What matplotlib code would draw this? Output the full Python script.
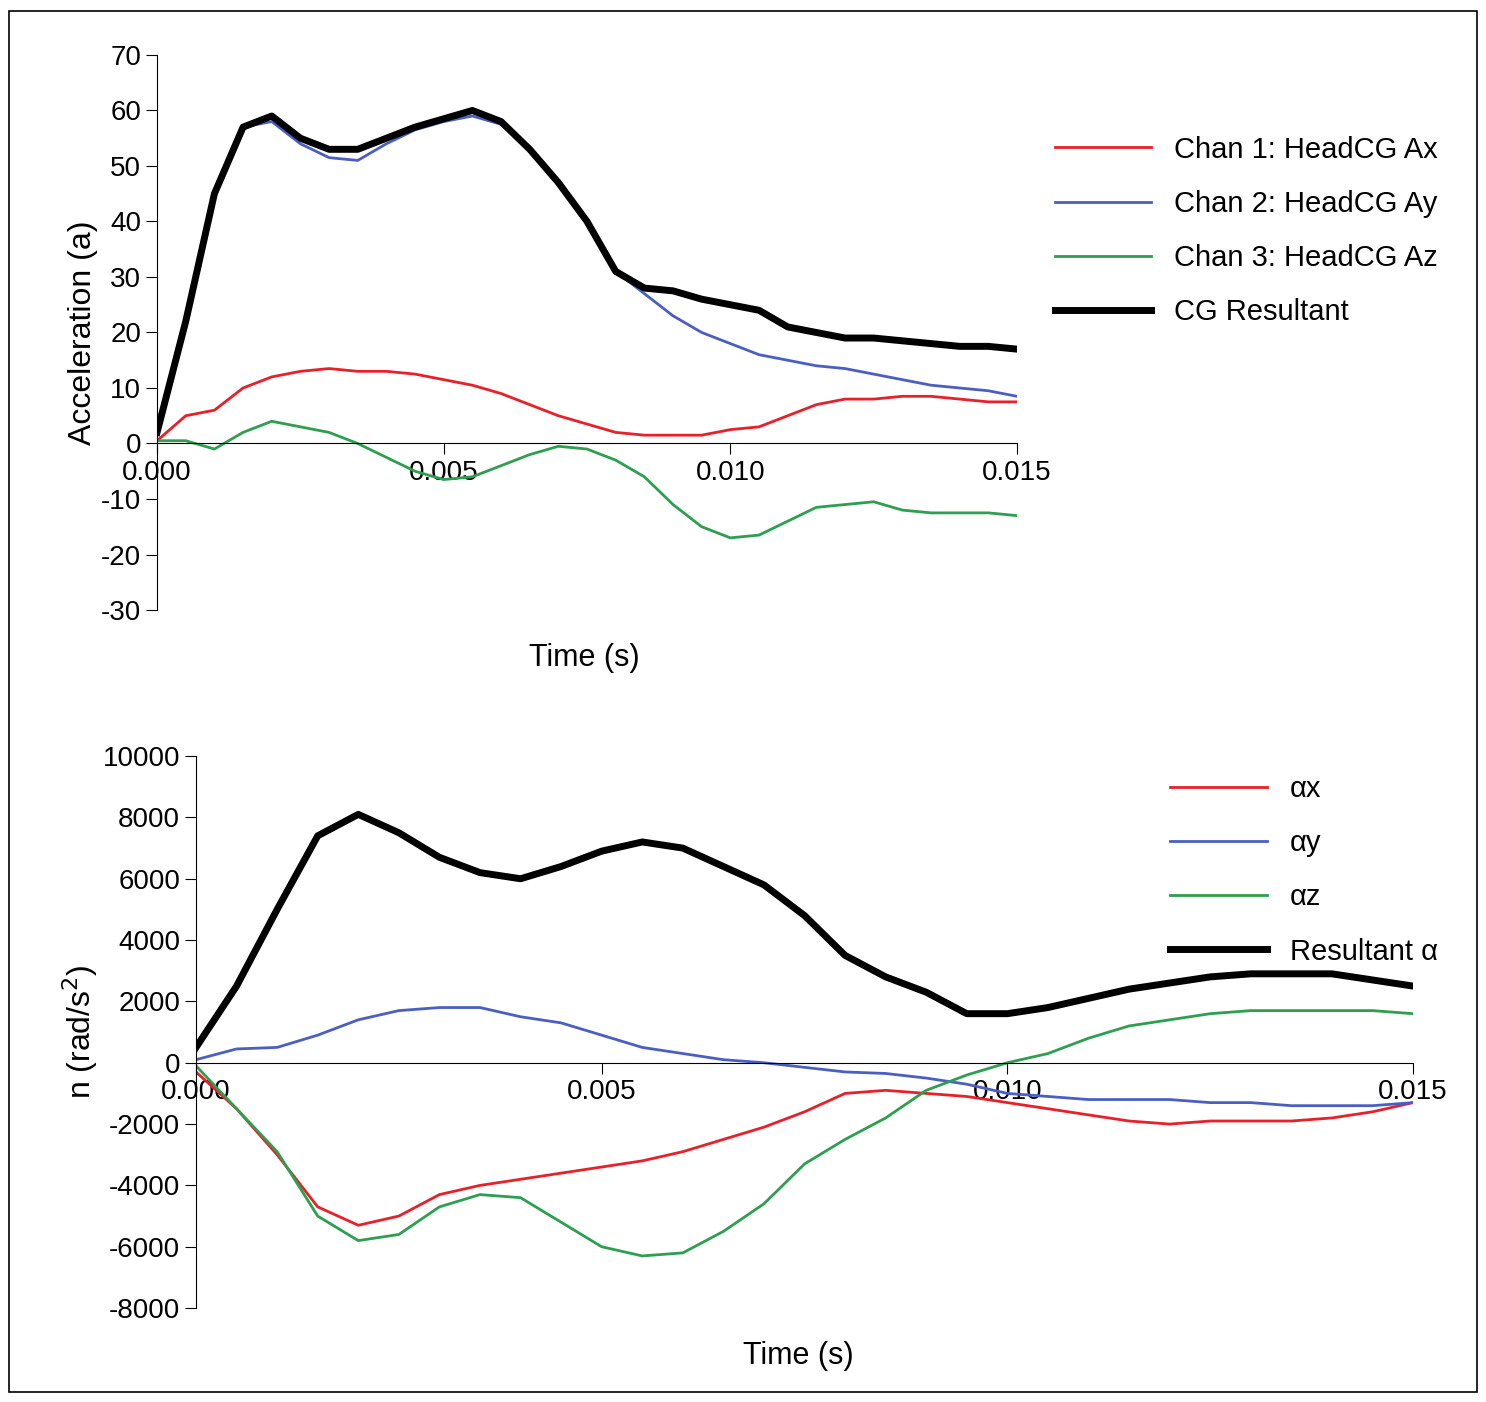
import numpy as np
import matplotlib
matplotlib.use("Agg")
import matplotlib.pyplot as plt
from matplotlib.patches import Rectangle

t = np.arange(31) * 0.0005

cg_res = [2,22,45,57,59,55,53,53,55,57,58.5,60,58,53,47,40,31,28,27.5,26,25,24,21,20,19,19,18.5,18,17.5,17.5,17]
ay = [2,22,45,57,58,54,51.5,51,54,56.5,58,59,57.5,53,47,40,31,27,23,20,18,16,15,14,13.5,12.5,11.5,10.5,10,9.5,8.5]
ax_ = [0.5,5,6,10,12,13,13.5,13,13,12.5,11.5,10.5,9,7,5,3.5,2,1.5,1.5,1.5,2.5,3,5,7,8,8,8.5,8.5,8,7.5,7.5]
az = [0.5,0.5,-1,2,4,3,2,0,-2.5,-5,-6.5,-6,-4,-2,-0.5,-1,-3,-6,-11,-15,-17,-16.5,-14,-11.5,-11,-10.5,-12,-12.5,-12.5,-12.5,-13]

res_alpha = [500,2500,5000,7400,8100,7500,6700,6200,6000,6400,6900,7200,7000,6400,5800,4800,3500,2800,2300,1600,1600,1800,2100,2400,2600,2800,2900,2900,2900,2700,2500]
alpha_y = [100,450,500,900,1400,1700,1800,1800,1500,1300,900,500,300,100,0,-150,-300,-350,-500,-700,-1000,-1100,-1200,-1200,-1200,-1300,-1300,-1400,-1400,-1400,-1300]
alpha_x = [-300,-1500,-3000,-4700,-5300,-5000,-4300,-4000,-3800,-3600,-3400,-3200,-2900,-2500,-2100,-1600,-1000,-900,-1000,-1100,-1300,-1500,-1700,-1900,-2000,-1900,-1900,-1900,-1800,-1600,-1300]
alpha_z = [-100,-1500,-2900,-5000,-5800,-5600,-4700,-4300,-4400,-5200,-6000,-6300,-6200,-5500,-4600,-3300,-2500,-1800,-900,-400,0,300,800,1200,1400,1600,1700,1700,1700,1700,1600]

xticks = [0.0, 0.005, 0.010, 0.015]
xticklabels = ["0.000", "0.005", "0.010", "0.015"]

plt.rcParams['font.family'] = ['Liberation Sans', 'DejaVu Sans']
plt.rcParams['axes.unicode_minus'] = False
fig = plt.figure(figsize=(14.86, 14.02), dpi=100)
fig.patches.append(Rectangle((0.006, 0.007), 0.988, 0.985, transform=fig.transFigure,
                             fill=False, edgecolor='black', lw=1.2))

RED, BLUE, GREEN = '#e8202a', '#4a5fc1', '#2e9e50'

def style(a, ylim, yticks):
    a.set_xlim(0, 0.015)
    a.set_ylim(*ylim)
    a.set_yticks(yticks)
    a.set_xticks(xticks)
    a.set_xticklabels(xticklabels)
    for s in ['top', 'right']:
        a.spines[s].set_visible(False)
    a.spines['bottom'].set_position(('data', 0))
    a.tick_params(axis='both', labelsize=20, direction='out', length=8)
    a.tick_params(axis='x', pad=4)

a1 = fig.add_axes([0.1057, 0.5649, 0.5787, 0.3959])
a1.plot(t, ax_, color=RED, lw=2, label='Chan 1: HeadCG Ax')
a1.plot(t, ay, color=BLUE, lw=2, label='Chan 2: HeadCG Ay')
a1.plot(t, az, color=GREEN, lw=2, label='Chan 3: HeadCG Az')
a1.plot(t, cg_res, color='black', lw=5, label='CG Resultant')
style(a1, (-30, 70), range(-30, 71, 10))
a1.set_ylabel('Acceleration (a)', fontsize=23, labelpad=2)
a1.legend(loc='upper left', bbox_to_anchor=(0.692, 0.922), bbox_transform=fig.transFigure,
          frameon=False, fontsize=21, handlelength=3.3, handletextpad=0.8, labelspacing=0.9)
fig.text(0.393, 0.525, 'Time (s)', fontsize=22, ha='center')

a2 = fig.add_axes([0.1319, 0.067, 0.819, 0.3937])
a2.plot(t, alpha_x, color=RED, lw=2, label='αx')
a2.plot(t, alpha_y, color=BLUE, lw=2, label='αy')
a2.plot(t, alpha_z, color=GREEN, lw=2, label='αz')
a2.plot(t, res_alpha, color='black', lw=5, label='Resultant α')
style(a2, (-8000, 10000), range(-8000, 10001, 2000))
a2.set_ylabel('n (rad/s$^2$)', fontsize=23, labelpad=2)
a2.legend(loc='upper left', bbox_to_anchor=(0.77, 0.466), bbox_transform=fig.transFigure,
          frameon=False, fontsize=21, handlelength=3.3, handletextpad=0.8, labelspacing=0.9)
fig.text(0.537, 0.027, 'Time (s)', fontsize=22, ha='center')

fig.savefig('out.png', dpi=100)
